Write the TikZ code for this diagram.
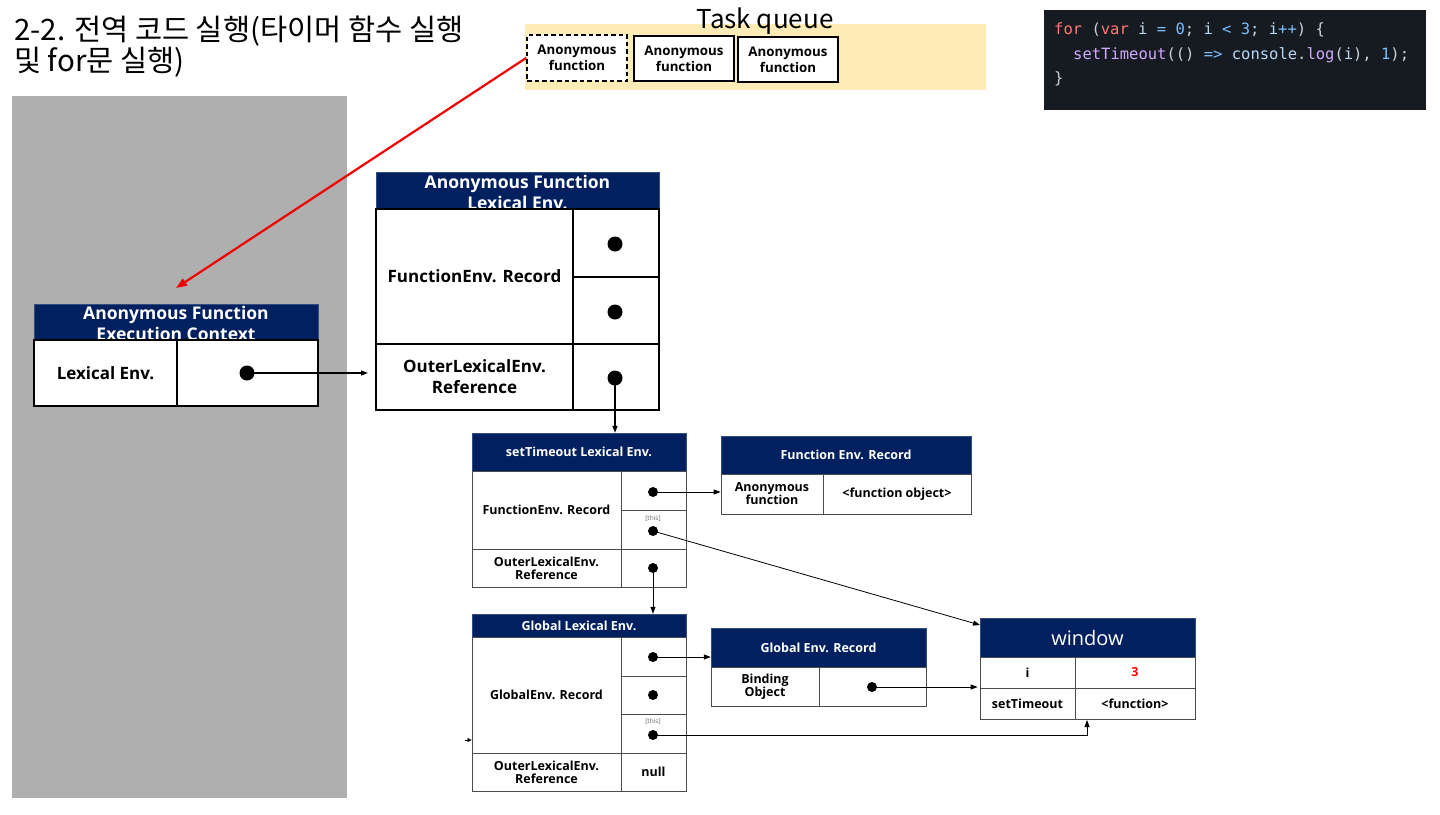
\documentclass[tikz,border=0pt]{standalone}
\usepackage{fontspec}
\setmainfont{Open Sans}
\newfontfamily\krfont{Noto Sans CJK KR}
\newfontfamily\codefont{DejaVu Sans Mono}
\usetikzlibrary{arrows.meta}
\definecolor{navy}{HTML}{002060}
\definecolor{graycol}{HTML}{AFAFAF}
\definecolor{tqbg}{HTML}{FFEBB5}
\definecolor{codebg}{HTML}{161B22}
\definecolor{ckw}{HTML}{FF7B72}
\definecolor{cnum}{HTML}{79C0FF}
\definecolor{cvar}{HTML}{B9D7F5}
\definecolor{cop}{HTML}{79C0FF}
\definecolor{cfn}{HTML}{D2A8FF}
\definecolor{cpn}{HTML}{C9D1D9}
\definecolor{redarr}{HTML}{F00000}
\begin{document}
\begin{tikzpicture}[x=1pt,y=-1pt,
  hdr/.style={draw=navy!80!white, fill=navy, inner sep=0, text=white, align=center, font=\bfseries\fontsize{12.5}{14}\selectfont},
  hdrtxt/.style={inner sep=0, text=white, align=center, font=\bfseries\fontsize{17.5}{21}\selectfont},
  bigc/.style={draw, line width=1.6pt, fill=white, inner sep=0, align=center, font=\bfseries\fontsize{17}{21}\selectfont},
  smc/.style={draw=black!70, line width=0.8pt, fill=white, inner sep=0, align=center, font=\bfseries\fontsize{12.5}{13}\selectfont},
  qbox/.style={draw, line width=1.8pt, fill=white, inner sep=0, align=center, minimum width=100, font=\bfseries\fontsize{13.3}{16}\selectfont},
  bigdot/.style={circle, fill=black, inner sep=0, minimum size=15pt},
  smdot/.style={circle, fill=black, inner sep=0, minimum size=10pt},
  thislbl/.style={inner sep=0, text=black!60, font=\fontsize{6.5}{7}\selectfont},
  arr/.style={-{Triangle[length=7pt,width=5pt]}, line width=0.8pt},
  codeln/.style={anchor=west, inner sep=0, text=cpn, font=\codefont\fontsize{15.5}{18}\selectfont}
]
\useasboundingbox (0,0) rectangle (1440,814);
\fill[white] (0,0) rectangle (1440,814);

% title
\node[anchor=west, align=left, inner sep=0, font=\krfont\fontsize{29.5}{31}\selectfont] (title) at (14,47) {2-2. 전역 코드 실행(타이머 함수 실행\\및 for문 실행)};

% execution context stack
\node[fill=graycol, minimum width=335, minimum height=702, inner sep=0] (stack) at (179.5,447) {};

% task queue
\node[fill=tqbg, minimum width=461, minimum height=66, inner sep=0] (tq) at (755.5,57) {};
\node[inner sep=0, font=\krfont\fontsize{26}{28}\selectfont] (tqtitle) at (765,21) {Task queue};
\node[qbox, dash pattern=on 4.5pt off 3pt, minimum height=46] (q1) at (577,58) {Anonymous\\function};
\node[qbox, minimum height=45] (q2) at (684,58.5) {Anonymous\\function};
\node[qbox, minimum height=45] (q3) at (788,59.5) {Anonymous\\function};

% code
\node[fill=codebg, minimum width=382, minimum height=100, inner sep=0] (code) at (1235,60) {};
\node[codeln] (c1) at (1054,30) {{\color{ckw}for} ({\color{ckw}var} {\color{cvar}i} {\color{cop}=} {\color{cnum}0}; {\color{cvar}i} {\color{cop}<} {\color{cnum}3}; {\color{cvar}i}{\color{cop}++}) \{};
\node[codeln] (c2) at (1073,55) {{\color{cfn}setTimeout}(() {\color{cop}=>} {\color{cvar}console}.{\color{cfn}log}({\color{cvar}i}), {\color{cnum}1});};
\node[codeln] (c3) at (1054,79) {\}};

% Anonymous Function Execution Context
\node[hdr, minimum width=284, minimum height=36] (ech) at (176,322) {};
\node[hdrtxt] (ectxt) at (176,323) {Anonymous Function\\Execution Context};
\node[bigc, minimum width=143, minimum height=66] (ecl) at (105.5,373) {Lexical Env.};
\node[bigc, minimum width=141, minimum height=66] (ecr) at (247.5,373) {};
\node[bigdot] (ecdot) at (247,373) {};

% Anonymous Function Lexical Env.
\node[hdr, minimum width=283, minimum height=37] (afh) at (517.5,190.5) {};
\node[hdrtxt] (aftxt) at (517.5,192) {Anonymous Function\\Lexical Env.};
\node[bigc, minimum width=197, minimum height=135] (a1) at (474.5,276.5) {FunctionEnv. Record};
\node[bigc, minimum width=86, minimum height=68] (a2) at (616,243) {};
\node[bigc, minimum width=86, minimum height=67] (a3) at (616,310.5) {};
\node[bigc, minimum width=197, minimum height=66] (a4) at (474.5,377) {OuterLexicalEnv.\\Reference};
\node[bigc, minimum width=86, minimum height=66] (a5) at (616,377) {};
\node[bigdot] (a2dot) at (615,244) {};
\node[bigdot] (a3dot) at (615,312) {};
\node[bigdot] (a5dot) at (615,378) {};

% setTimeout Lexical Env.
\node[hdr, minimum width=214, minimum height=38] (sh) at (579,452) {setTimeout Lexical Env.};
\node[smc, minimum width=149, minimum height=78] (s1) at (546.5,510) {FunctionEnv. Record};
\node[smc, minimum width=65, minimum height=39] (s2) at (653.5,490.5) {};
\node[smc, minimum width=65, minimum height=39] (s3) at (653.5,529.5) {};
\node[thislbl] (s3this) at (653,519) {[this]};
\node[smc, minimum width=149, minimum height=38] (s4) at (546.5,568) {OuterLexicalEnv.\\Reference};
\node[smc, minimum width=65, minimum height=38] (s5) at (653.5,568) {};
\node[smdot] (s2dot) at (653,492) {};
\node[smdot] (s3dot) at (653,531) {};
\node[smdot] (s5dot) at (653,568) {};

% Function Env. Record
\node[hdr, minimum width=250, minimum height=38] (fh) at (846,455) {Function Env. Record};
\node[smc, minimum width=102, minimum height=40] (f1) at (772,494) {Anonymous\\function};
\node[smc, minimum width=148, minimum height=40] (f2) at (897,494) {<function object>};

% Global Lexical Env.
\node[hdr, minimum width=214, minimum height=23] (gh) at (579,625.5) {Global Lexical Env.};
\node[smc, minimum width=149, minimum height=116] (g1) at (546.5,695) {GlobalEnv. Record};
\node[smc, minimum width=65, minimum height=39] (g2) at (653.5,656.5) {};
\node[smc, minimum width=65, minimum height=38] (g3) at (653.5,695) {};
\node[smc, minimum width=65, minimum height=39] (g4) at (653.5,733.5) {};
\node[thislbl] (g4this) at (653,722) {[this]};
\node[smc, minimum width=149, minimum height=38] (g5) at (546.5,772) {OuterLexicalEnv.\\Reference};
\node[smc, minimum width=65, minimum height=38] (g6) at (653.5,772) {null};
\node[smdot] (g2dot) at (653,657) {};
\node[smdot] (g3dot) at (653,695) {};
\node[smdot] (g4dot) at (653,735) {};

% Global Env. Record
\node[hdr, minimum width=215, minimum height=39] (grh) at (818.5,647.5) {Global Env. Record};
\node[smc, minimum width=108, minimum height=39] (r1) at (765,686.5) {Binding\\Object};
\node[smc, minimum width=107, minimum height=39] (r2) at (872.5,686.5) {};
\node[smdot] (r2dot) at (872,687) {};

% window
\node[hdr, minimum width=215, minimum height=39, font=\fontsize{20}{22}\selectfont] (wh) at (1087.5,637.5) {window};
\node[smc, minimum width=95, minimum height=31] (w1) at (1027.5,672.5) {i};
\node[smc, minimum width=120, minimum height=31, text=red] (w2) at (1135,672.5) {3};
\node[smc, minimum width=95, minimum height=31] (w3) at (1027.5,703.5) {setTimeout};
\node[smc, minimum width=120, minimum height=31] (w4) at (1135,703.5) {<function>};

% connector end points
\coordinate (redtip) at (176,288);
\coordinate (ectip) at (368,373);
\coordinate (wtip) at (980,625);
\coordinate (wbot) at (1087,720);
\coordinate (gin) at (465,740);

% connectors
\draw[-{Triangle[length=11pt,width=8pt]}, line width=2.2pt, redarr] (q1.west) -- (redtip);
\draw[arr, line width=1.4pt] (ecdot.center) -- (ectip);
\draw[arr, line width=1.4pt] (a5dot.center) -- (a5dot |- sh.north);
\draw[arr] (s2dot.center) -- (s2dot -| f1.west);
\draw[arr] (s3dot.center) -- (wtip);
\draw[arr] (s5dot.center) -- (s5dot |- gh.north);
\draw[arr] (g2dot.center) -- (g2dot -| grh.west);
\draw[arr] (g4dot.center) -| (wbot);
\draw[arr] (r2dot.center) -- ([xshift=-2pt]r2dot -| w1.west);
\draw[-{Triangle[length=4pt,width=4pt]}, line width=0.6pt] (gin) -- (gin -| g1.west);
\end{tikzpicture}
\end{document}
